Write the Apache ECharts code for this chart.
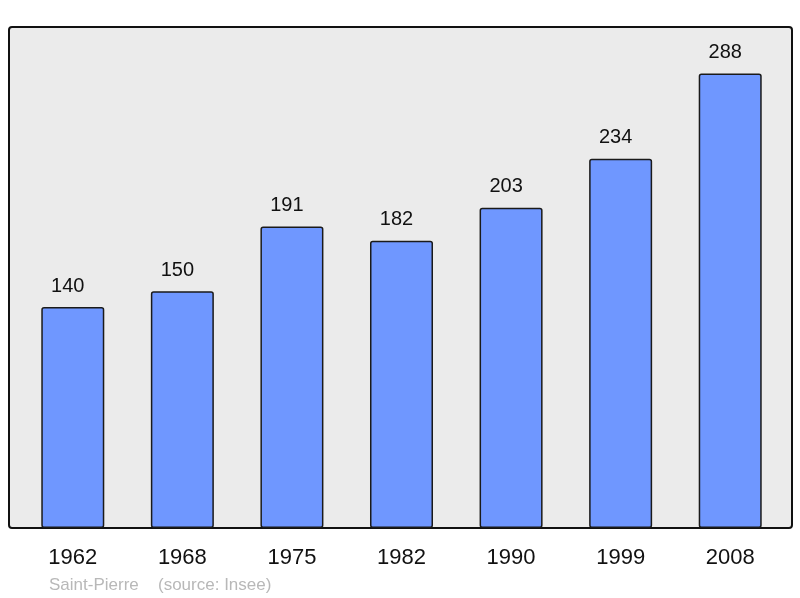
<!DOCTYPE html>
<html>
<head>
<meta charset="utf-8">
<script src="https://cdn.jsdelivr.net/npm/echarts@6/dist/echarts.min.js"></script>
<style>
html,body{margin:0;padding:0;background:#fff;}
#chart{width:800px;height:598px;}
</style>
</head>
<body>
<div id="chart"></div>
<script>
var years = ['1962', '1968', '1975', '1982', '1990', '1999', '2008'];
var population = [140, 150, 191, 182, 203, 234, 288];

var myChart = echarts.init(document.getElementById('chart'));

var option = {
    animation: false,
    backgroundColor: '#ffffff',
    textStyle: { fontFamily: 'Liberation Sans, Arial, sans-serif' },
    grid: { left: 18, right: 15, top: 27, bottom: 70 },
    graphic: [
        {
            type: 'rect',
            z: -10,
            shape: { x: 9, y: 27, width: 783, height: 501, r: 3 },
            style: { fill: '#ebebeb', stroke: '#111', lineWidth: 2 }
        },
        {
            type: 'text',
            left: 49, top: 577,
            style: { text: 'Saint-Pierre', fill: '#b8b8b8', fontSize: 17, fontFamily: 'Liberation Sans, Arial, sans-serif' }
        },
        {
            type: 'text',
            left: 158, top: 577,
            style: { text: '(source: Insee)', fill: '#b8b8b8', fontSize: 17, fontFamily: 'Liberation Sans, Arial, sans-serif' }
        }
    ],
    xAxis: {
        type: 'category',
        data: years,
        axisLine: { show: false },
        axisTick: { show: false },
        axisLabel: { fontSize: 22, color: '#111', margin: 19 }
    },
    yAxis: {
        type: 'value',
        min: 0,
        max: 317.5,
        show: false,
        splitLine: { show: false }
    },
    series: [
        {
            type: 'bar',
            data: population,
            barWidth: '57.5%',
            itemStyle: {
                color: '#6f97ff',
                borderColor: '#1a1a1a',
                borderWidth: 1.5,
                borderRadius: 2
            },
            label: {
                show: true,
                position: 'top',
                distance: 11,
                offset: [-5, 0],
                fontSize: 20,
                color: '#111'
            }
        }
    ]
};

myChart.setOption(option);
</script>
</body>
</html>
